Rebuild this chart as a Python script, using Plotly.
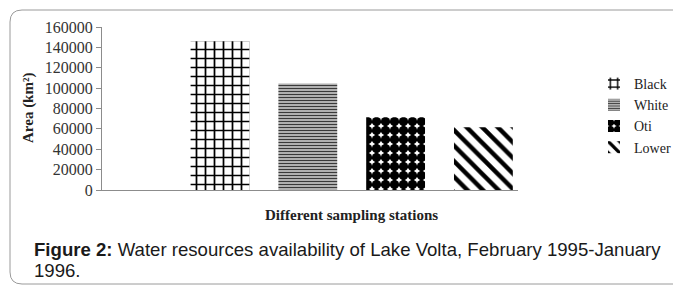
import plotly.graph_objects as go

# ---- data ----
stations = ["Black", "White", "Oti", "Lower"]
area_km2 = [146000, 104500, 71500, 61500]
y_ticks = [0, 20000, 40000, 60000, 80000, 100000, 120000, 140000, 160000]
y_tick_labels = [str(v) for v in y_ticks]

patterns = [
    dict(shape="+", size=9, solidity=0.35, fgcolor="#000000", bgcolor="white", fgopacity=1),
    dict(shape="-", size=3, solidity=0.6, fgcolor="#3a3a3a", bgcolor="white", fgopacity=1),
    dict(shape=".", size=9, solidity=0.8, fgcolor="#000000", bgcolor="white", fgopacity=1),
    dict(shape="\\", size=11, solidity=0.4, fgcolor="#000000", bgcolor="white", fgopacity=1),
]

# page body adds an 8px offset; work in figure pixels = screen pixels - 8
OFF = 8
W, H = 681, 289
L, R, T, B = 102 - OFF, 518 - OFF, 27 - OFF, 190 - OFF  # plot area in figure pixels


def px(x):
    """screen x -> paper x"""
    return (x - OFF - L) / (R - L)


def py(y):
    """screen y -> paper y"""
    return (B - (y - OFF)) / (B - T)


fig = go.Figure()
for name, val, pat in zip(stations, area_km2, patterns):
    fig.add_trace(go.Bar(
        x=[name], y=[val], name=name, width=0.67,
        marker=dict(color="white", line=dict(width=0), pattern=pat),
    ))

serif = "Liberation Serif"
sans = "Liberation Sans"

# rounded frame (decoration), screen pixel coordinates
x0, y0, x1, y1, r = 10, 10, 690, 284, 12
path = (
    f"M {px(x0 + r)} {py(y0)} L {px(x1 - r)} {py(y0)} "
    f"Q {px(x1)} {py(y0)} {px(x1)} {py(y0 + r)} L {px(x1)} {py(y1 - r)} "
    f"Q {px(x1)} {py(y1)} {px(x1 - r)} {py(y1)} L {px(x0 + r)} {py(y1)} "
    f"Q {px(x0)} {py(y1)} {px(x0)} {py(y1 - r)} L {px(x0)} {py(y0 + r)} "
    f"Q {px(x0)} {py(y0)} {px(x0 + r)} {py(y0)} Z"
)

fig.update_layout(
    width=W, height=H,
    margin=dict(l=L, r=W - R, t=T, b=H - B, pad=0, autoexpand=False),
    paper_bgcolor="white", plot_bgcolor="white",
    barmode="overlay",
    showlegend=True,
    legend=dict(
        x=px(594), y=py(68), xanchor="left", yanchor="top",
        font=dict(family=serif, size=14, color="#222222"),
        bgcolor="rgba(0,0,0,0)", tracegroupgap=0,
    ),
    xaxis=dict(
        type="category", range=[-1.344, 3.394],
        showticklabels=False, ticks="", showgrid=False,
        showline=True, linecolor="#8c8c8c", linewidth=1, zeroline=False,
    ),
    yaxis=dict(
        range=[0, 160000], tickvals=y_ticks, ticktext=y_tick_labels,
        ticks="outside", ticklen=5, tickcolor="#8c8c8c",
        showline=True, linecolor="#8c8c8c", linewidth=1,
        showgrid=False, zeroline=False,
        tickfont=dict(family=serif, size=16, color="#333333"),
    ),
    shapes=[dict(type="path", xref="paper", yref="paper", path=path,
                 line=dict(color="#9a9a9a", width=1), fillcolor="rgba(0,0,0,0)",
                 layer="below")],
    annotations=[
        dict(text="<b>Area (km²)</b>", textangle=-90,
             xref="paper", yref="paper", x=px(28), y=py(108),
             xanchor="center", yanchor="middle", showarrow=False,
             font=dict(family=serif, size=15, color="#222222")),
        dict(text="<b>Different sampling stations</b>",
             xref="paper", yref="paper", x=px(351), y=py(215),
             xanchor="center", yanchor="middle", showarrow=False,
             font=dict(family=serif, size=15, color="#222222")),
        dict(text="<b>Figure 2:</b> Water resources availability of Lake Volta, February 1995-January",
             xref="paper", yref="paper", x=px(32), y=py(249.6),
             xanchor="left", yanchor="middle", align="left", showarrow=False,
             font=dict(family=sans, size=18.6, color="#1a1a1a")),
        dict(text="1996.",
             xref="paper", yref="paper", x=px(32), y=py(270.5),
             xanchor="left", yanchor="middle", align="left", showarrow=False,
             font=dict(family=sans, size=18.6, color="#1a1a1a")),
    ],
)

fig.write_html("out.html")
